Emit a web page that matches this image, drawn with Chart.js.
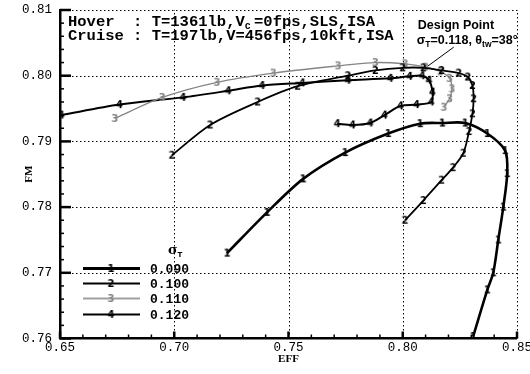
<!DOCTYPE html>
<html>
<head>
<meta charset="utf-8">
<script src="https://cdn.jsdelivr.net/npm/chart.js@4.4.1/dist/chart.umd.min.js"></script>
<style>
  html, body { margin: 0; padding: 0; background: #fff; }
  #wrap { width: 530px; height: 374px; position: relative; }
</style>
</head>
<body>
<div id="wrap"><canvas id="fmChart"></canvas></div>
<script>
// Figure of merit vs efficiency, one curve per solidity
var solidities = ['0.090', '0.100', '0.110', '0.120'];
var markerDigits = ['1', '2', '3', '4'];

var eff1 = [0.7231, 0.7406, 0.7564, 0.7748, 0.7936, 0.8076, 0.8173, 0.8273, 0.8370, 0.8448, 0.8457, 0.8440, 0.8418, 0.8396, 0.8370, 0.8308];
var fm1  = [0.7730, 0.7792, 0.7843, 0.7883, 0.7912, 0.7927, 0.7928, 0.7928, 0.7912, 0.7886, 0.7851, 0.7800, 0.7750, 0.7700, 0.7674, 0.7603];

var eff2 = [0.6990, 0.7157, 0.7365, 0.7540, 0.7760, 0.7880, 0.8000, 0.8090, 0.8170, 0.8245, 0.8285, 0.8305, 0.8310, 0.8305, 0.8290, 0.8265, 0.8220, 0.8170, 0.8090, 0.8010];
var fm2  = [0.7879, 0.7925, 0.7960, 0.7984, 0.8000, 0.8008, 0.8012, 0.8012, 0.8008, 0.8004, 0.7998, 0.7985, 0.7965, 0.7942, 0.7915, 0.7882, 0.7860, 0.7841, 0.7810, 0.7780];

var eff3 = [0.6740, 0.6947, 0.7187, 0.7433, 0.7717, 0.7880, 0.8010, 0.8100, 0.8165, 0.8205, 0.8215, 0.8205, 0.8180];
var fm3  = [0.7935, 0.7967, 0.7990, 0.8004, 0.8015, 0.8020, 0.8018, 0.8013, 0.8006, 0.7996, 0.7980, 0.7965, 0.7952];

var eff4 = [0.6505, 0.6760, 0.7038, 0.7236, 0.7384, 0.7560, 0.7760, 0.7945, 0.8030, 0.8085, 0.8115, 0.8130, 0.8125, 0.8060, 0.7990, 0.7920, 0.7857, 0.7780, 0.7713];
var fm4  = [0.7940, 0.7956, 0.7967, 0.7977, 0.7985, 0.7989, 0.7993, 0.7996, 0.7999, 0.8000, 0.7993, 0.7975, 0.7960, 0.7956, 0.7954, 0.7940, 0.7928, 0.7925, 0.7927];

var effRange = [0.65, 0.85];
var fmRange = [0.76, 0.81];
var designPoint = [0.8105, 0.8013];

var lineColors = ['#000', '#000', '#858585', '#000'];
var lineWidths = [2.6, 1.8, 1.3, 2.0];
var legendWidths = [3, 2, 2, 2];

function pts(xs, ys) {
    return xs.map(function(x, i) { return {x: x, y: ys[i]}; });
}

// small canvas with the curve number, used as the point marker
function digitMarker(d, color) {
    var c = document.createElement('canvas');
    c.width = 9; c.height = 11;
    var g = c.getContext('2d');
    g.fillStyle = color;
    g.font = 'bold 10px "DejaVu Sans"';
    g.textAlign = 'center';
    g.textBaseline = 'middle';
    g.fillText(d, 4.5, 6);
    return c;
}

var markers = markerDigits.map(function(d, i) { return digitMarker(d, lineColors[i]); });
var series = [pts(eff1, fm1), pts(eff2, fm2), pts(eff3, fm3), pts(eff4, fm4)];

var datasets = series.map(function(data, i) {
    return {
        label: solidities[i],
        data: data,
        showLine: true,
        borderColor: lineColors[i],
        borderWidth: lineWidths[i],
        tension: 0.3,
        pointStyle: markers[i],
        pointRadius: 4,
        pointHoverRadius: 4
    };
});

// dotted grid at the major ticks
var dottedGrid = {
    id: 'dottedGrid',
    beforeDatasetsDraw: function(chart) {
        var ctx = chart.ctx, a = chart.chartArea, xs = chart.scales.x, ys = chart.scales.y;
        ctx.save();
        ctx.strokeStyle = '#000';
        ctx.lineWidth = 1;
        ctx.setLineDash([1.5, 2.5]);
        xs.ticks.forEach(function(t) {
            if (t.value <= effRange[0]) return;
            var px = Math.round(xs.getPixelForValue(t.value)) + 0.5;
            ctx.beginPath(); ctx.moveTo(px, a.bottom); ctx.lineTo(px, a.top); ctx.stroke();
        });
        ys.ticks.forEach(function(t) {
            if (t.value <= fmRange[0]) return;
            var py = Math.round(ys.getPixelForValue(t.value)) + 0.5;
            ctx.beginPath(); ctx.moveTo(a.left, py); ctx.lineTo(a.right, py); ctx.stroke();
        });
        ctx.restore();
    }
};

// inward minor/major tick marks on the two solid axes
var tickMarks = {
    id: 'tickMarks',
    afterDraw: function(chart) {
        var ctx = chart.ctx, xs = chart.scales.x, ys = chart.scales.y, a = chart.chartArea;
        ctx.save();
        ctx.strokeStyle = '#000';
        for (var i = 0; i <= 20; i++) {
            var px = xs.getPixelForValue(effRange[0] + i * 0.01);
            var major = i % 5 === 0;
            ctx.lineWidth = major ? 2.5 : 1.5;
            ctx.beginPath();
            ctx.moveTo(px, a.bottom);
            ctx.lineTo(px, a.bottom - (major ? 7 : 4));
            ctx.stroke();
        }
        for (var j = 0; j <= 25; j++) {
            var py = ys.getPixelForValue(fmRange[0] + j * 0.002);
            var majorY = j % 5 === 0;
            ctx.lineWidth = majorY ? 2.5 : 1.5;
            ctx.beginPath();
            ctx.moveTo(a.left, py);
            ctx.lineTo(a.left + (majorY ? 11 : 4), py);
            ctx.stroke();
        }
        ctx.restore();
    }
};

// text with a lowered small suffix, returns the x after it
function subText(ctx, base, sub, x, y, font, subFont) {
    ctx.font = font;
    ctx.fillText(base, x, y);
    x += ctx.measureText(base).width;
    ctx.font = subFont;
    ctx.fillText(sub, x, y + 3);
    return x + ctx.measureText(sub).width;
}

var annotations = {
    id: 'annotations',
    afterDraw: function(chart) {
        var ctx = chart.ctx, a = chart.chartArea, xs = chart.scales.x, ys = chart.scales.y;
        ctx.save();
        ctx.fillStyle = '#000';
        ctx.textBaseline = 'alphabetic';

        // axis titles
        ctx.font = 'bold 11px "Liberation Serif"';
        ctx.textAlign = 'center';
        ctx.fillText('EFF', (a.left + a.right) / 2, a.bottom + 23);
        ctx.save();
        ctx.translate(a.left - 32, (a.top + a.bottom) / 2);
        ctx.rotate(-Math.PI / 2);
        ctx.fillText('FM', 0, 4);
        ctx.restore();

        // operating conditions
        ctx.textAlign = 'left';
        var mono = 'bold 15.5px "Liberation Mono"';
        var tx = a.left + 8;
        ctx.font = mono;
        var cw = ctx.measureText('M').width;
        ctx.fillText('Hover  : T=1361lb,V', tx, a.top + 16);
        ctx.font = 'bold 10px "Liberation Mono"';
        ctx.fillText('c', tx + 19 * cw, a.top + 19);
        ctx.font = mono;
        ctx.fillText('=0fps,SLS,ISA', tx + 20 * cw, a.top + 16);
        ctx.fillText('Cruise : T=197lb,V=456fps,10kft,ISA', tx, a.top + 29.5);

        // design point callout
        var dx = xs.getPixelForValue(designPoint[0]);
        var dy = ys.getPixelForValue(designPoint[1]);
        ctx.strokeStyle = '#000';
        ctx.lineWidth = 1;
        ctx.beginPath();
        ctx.moveTo(dx + 1, dy - 1);
        ctx.lineTo(dx + 27, dy - 20);
        ctx.stroke();
        var f = 'bold 12.5px "Liberation Sans"', fs = 'bold 8.5px "Liberation Sans"';
        ctx.font = f;
        ctx.fillText('Design Point', dx - 9, dy - 38);
        var x2 = subText(ctx, 'σ', 'T', dx - 10, dy - 23, f, fs);
        x2 = subText(ctx, '=0.118, θ', 'tw', x2, dy - 23, f, fs);
        ctx.font = f;
        ctx.fillText('=38°', x2, dy - 23);

        // legend
        var lx = a.left + 23, rows = [70, 55, 40, 24];
        subText(ctx, 'σ', 'T', a.left + 108, a.bottom - 85, 'bold 13px "DejaVu Serif"', 'bold 7px "DejaVu Sans"');
        for (var i = 0; i < solidities.length; i++) {
            var ry = a.bottom - rows[i];
            ctx.strokeStyle = i === 2 ? '#a0a0a0' : '#000';
            ctx.lineWidth = legendWidths[i];
            ctx.beginPath();
            ctx.moveTo(lx, ry);
            ctx.lineTo(lx + 57, ry);
            ctx.stroke();
            ctx.drawImage(markers[i], lx + 28 - 4.5, ry - 5.5);
            ctx.font = 'bold 13px "Liberation Mono"';
            ctx.fillText(solidities[i], lx + 67, ry + 4.5);
        }
        ctx.restore();
    }
};

var tickFont = { family: 'Liberation Mono', size: 12.5, lineHeight: 1 };

var ctx = document.getElementById('fmChart').getContext('2d');
var fmChart = new Chart(ctx, {
    type: 'scatter',
    data: { datasets: datasets },
    options: {
        responsive: true,
        maintainAspectRatio: false,
        animation: false,
        layout: { padding: { left: 22, right: 13, top: 10, bottom: 20 } },
        plugins: {
            legend: { display: false },
            tooltip: { enabled: false }
        },
        scales: {
            x: {
                type: 'linear',
                min: effRange[0],
                max: effRange[1],
                afterFit: function(s) { s.height = 15.5; s.paddingRight = 0; s.paddingLeft = 0; },
                ticks: {
                    stepSize: 0.05,
                    padding: 3,
                    color: '#000',
                    font: tickFont,
                    callback: function(v) { return v.toFixed(2); }
                },
                grid: { display: true, lineWidth: 0, drawTicks: false },
                border: { display: true, color: '#000', width: 2.5 }
            },
            y: {
                type: 'linear',
                min: fmRange[0],
                max: fmRange[1],
                afterFit: function(s) { s.width = 38; s.paddingTop = 0; s.paddingBottom = 0; },
                ticks: {
                    stepSize: 0.01,
                    padding: 8,
                    color: '#000',
                    font: tickFont,
                    callback: function(v) { return v.toFixed(2); }
                },
                grid: { display: true, lineWidth: 0, drawTicks: false },
                border: { display: true, color: '#000', width: 2.5 }
            }
        }
    },
    plugins: [dottedGrid, tickMarks, annotations]
});
</script>
</body>
</html>
